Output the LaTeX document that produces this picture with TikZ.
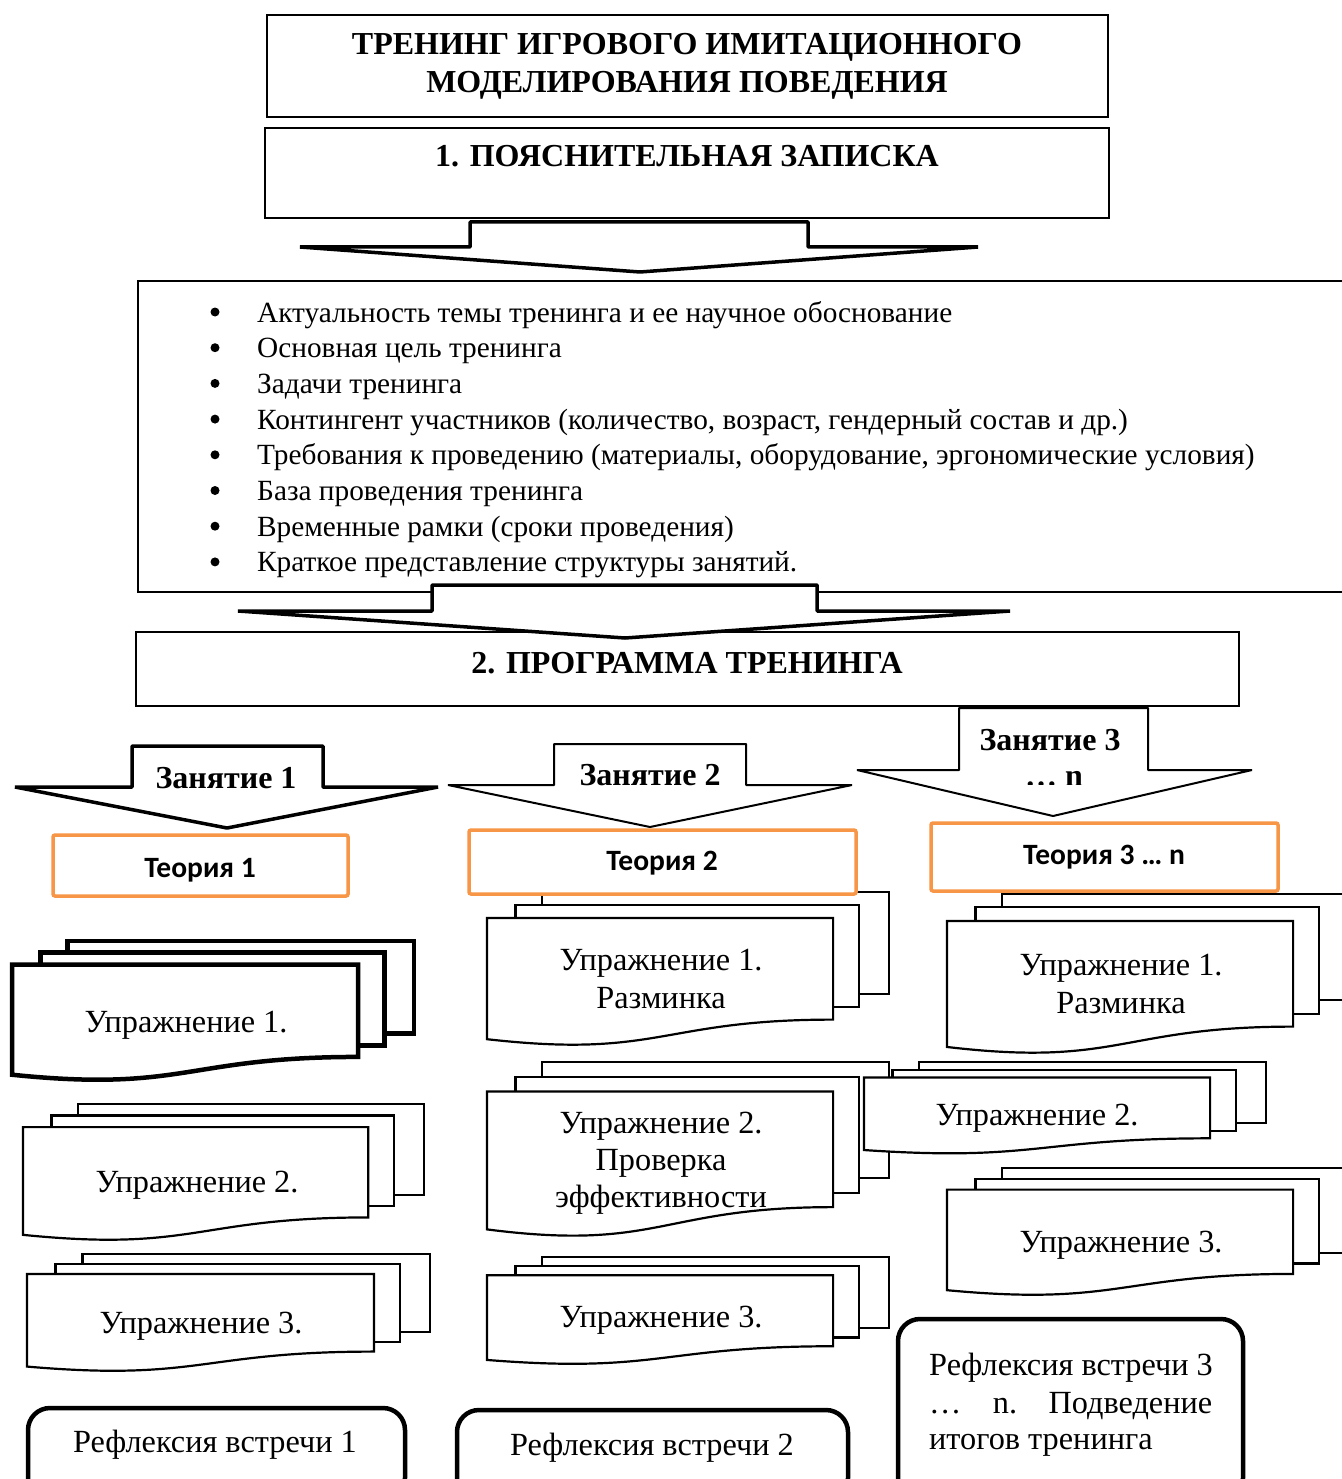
\documentclass[tikz,border=0pt]{standalone}
\usepackage{fontspec}
\setmainfont{Liberation Serif}
\newfontfamily\carl{Carlito}
\definecolor{orangeC}{HTML}{F79646}
\newcommand\mdoc[5]{%
  \begin{scope}[shift={(#1,#2)},x=#3pt,y=-#4pt,line join=miter,#5]
    \path[docline] (0.1376,0) rectangle (1,0.6663);
    \path[docline] (0.0709,0.084) rectangle (0.926,0.7524);
    \path[docline] (0,0.170) -- (0.861,0.170) -- (0.861,0.834)
      .. controls (0.4305,0.834) and (0.4305,1.09) .. (0,0.962) -- cycle;
  \end{scope}}
\begin{document}
\begin{tikzpicture}[x=1pt,y=-1pt,
  docline/.style={draw,fill=white},
  box/.style={draw,line width=2pt,fill=white},
  bigarrow/.style={draw,line width=3.5pt,fill=white,line join=bevel},
  thinarrow/.style={draw,line width=2pt,fill=white,line join=bevel},
  theory/.style={draw=orangeC,line width=3.5pt,fill=white,rounded corners=2pt},
  refl/.style={draw,line width=4.5pt,fill=white,rounded corners=22pt},
  body/.style={font=\fontsize{29.3}{36}\selectfont,inner sep=0pt},
  ex/.style={font=\fontsize{32.3}{38}\selectfont,inner sep=0pt},
  dot/.style={circle,fill=black,inner sep=0pt,minimum size=9pt},
  head/.style={font=\fontsize{32}{38}\selectfont\bfseries,inner sep=0pt},
  zan/.style={font=\fontsize{32}{36}\selectfont\bfseries,inner sep=0pt},
  teo/.style={font=\fontsize{29.5}{32}\selectfont\carl\bfseries,inner sep=0pt}]
\useasboundingbox (0,0) rectangle (1341,1479);
\fill[white] (0,0) rectangle (1341,1479);

% title
\draw[box] (267,15) rectangle (1108,117);
\node[head,anchor=base] (t1) at (687,55) {ТРЕНИНГ ИГРОВОГО ИМИТАЦИОННОГО};
\node[head,anchor=base] (t2) at (687,93) {МОДЕЛИРОВАНИЯ ПОВЕДЕНИЯ};

\draw[box] (265,128) rectangle (1109,218);
\node[head,anchor=base] (p1) at (687,167) {1. ПОЯСНИТЕЛЬНАЯ ЗАПИСКА};

% bullet box
\draw[line width=2pt] (1350,281) -- (138,281) -- (138,592) -- (1350,592);
\foreach \t [count=\i] in {%
  {Актуальность темы тренинга и ее научное обоснование},
  {Основная цель тренинга},
  {Задачи тренинга},
  {Контингент участников (количество, возраст, гендерный состав и др.)},
  {Требования к проведению (материалы, оборудование, эргономические условия)},
  {База проведения тренинга},
  {Временные рамки (сроки проведения)},
  {Краткое представление структуры занятий.}}{
  \node[dot] (bb\i) at (215,{312+35.7*(\i-1)}) {};
  \node[body,anchor=base west] (b\i) at (257,{322+35.7*(\i-1)}) {\t};
}

% arrow 1
\draw[bigarrow] (300,247) -- (470,247) -- (470,222) -- (808,222) -- (808,247)
  -- (978,247) -- (640,272) -- cycle;

% program box
\draw[box] (136,632) rectangle (1239,706);
\node[head,anchor=base] (p2) at (687,673) {2. ПРОГРАММА ТРЕНИНГА};

% arrow 2
\draw[bigarrow] (238,611) -- (432,611) -- (432,585) -- (817,585) -- (817,611)
  -- (1010,611) -- (625,638) -- cycle;

% Zanyatie arrows
\draw[bigarrow] (15,787) -- (132,787) -- (132,746) -- (323,746) -- (323,787)
  -- (438,787) -- (227,828) -- cycle;
\node[zan,anchor=base] (z1) at (226,788) {Занятие 1};

\draw[thinarrow] (448,785) -- (554,785) -- (554,744) -- (746,744) -- (746,785)
  -- (852,785) -- (650,827) -- cycle;
\node[zan,anchor=base] (z2) at (650,785) {Занятие 2};

\draw[thinarrow] (857,770) -- (959,770) -- (959,708) -- (1148,708) -- (1148,770)
  -- (1252,770) -- (1053,816) -- cycle;
\node[zan,anchor=base] (z3) at (1050,750) {Занятие 3};
\begin{scope}
  \clip (960,760) rectangle (1146,784);
  \node[zan,anchor=base] (z3n) at (1054,786) {… n};
\end{scope}

% column 1
\mdoc{12}{941}{402}{139}{line width=4.5pt}
\node[ex,anchor=base] (u11) at (186,1032) {Упражнение 1.};
\mdoc{23}{1104}{401}{136}{line width=2.2pt}
\node[ex,anchor=base] (u12) at (197,1192) {Упражнение 2.};
\mdoc{27}{1254}{403}{117}{line width=2.2pt}
\node[ex,anchor=base] (u13) at (201,1333) {Упражнение 3.};

% column 2
\mdoc{487}{892}{402}{153}{line width=2.2pt}
\node[ex,anchor=base] (u21a) at (661,970) {Упражнение 1.};
\node[ex,anchor=base] (u21b) at (661,1008) {Разминка};
\mdoc{487}{1062}{402}{174}{line width=2.2pt}
\node[ex,anchor=base] (u22a) at (661,1133) {Упражнение 2.};
\node[ex,anchor=base] (u22b) at (661,1170) {Проверка};
\node[ex,anchor=base] (u22c) at (661,1207) {эффективности};
\mdoc{487}{1257}{402}{107}{line width=2.2pt}
\node[ex,anchor=base] (u23) at (661,1327) {Упражнение 3.};

% column 3
\mdoc{947}{894}{402}{159}{line width=2.2pt}
\node[ex,anchor=base] (u31a) at (1121,975) {Упражнение 1.};
\node[ex,anchor=base] (u31b) at (1121,1013) {Разминка};
\mdoc{864}{1062}{402}{91.5}{line width=2.2pt}
\node[ex,anchor=base] (u32) at (1037,1125) {Упражнение 2.};
\mdoc{947}{1168}{402}{127}{line width=2.2pt}
\node[ex,anchor=base] (u33) at (1121,1252) {Упражнение 3.};

% theory boxes
\draw[theory] (53,835) rectangle (348,896);
\node[teo,anchor=base] (th1) at (200,877) {Теория 1};
\draw[theory] (469,830) rectangle (856,894);
\node[teo,anchor=base] (th2) at (662,870) {Теория 2};
\draw[theory] (931,823) rectangle (1278,891);
\node[teo,anchor=base] (th3) at (1104,864) {Теория 3 … n};

% reflection boxes
\draw[refl] (28,1408) rectangle (405,1500);
\node[ex,anchor=base] (r1) at (215,1452) {Рефлексия встречи 1};
\draw[refl] (457,1410) rectangle (848,1500);
\node[ex,anchor=base] (r2) at (652,1455) {Рефлексия встречи 2};
\draw[refl] (898,1319) rectangle (1243,1500);
\node[ex,anchor=base west] (r3a) at (929,1375) {Рефлексия встречи 3};
\node[ex,anchor=base west] (r3b) at (929,1413) {\makebox[283pt][l]{…\hfill n.\hfill Подведение}};
\node[ex,anchor=base west] (r3c) at (929,1449) {итогов тренинга};
\end{tikzpicture}
\end{document}
